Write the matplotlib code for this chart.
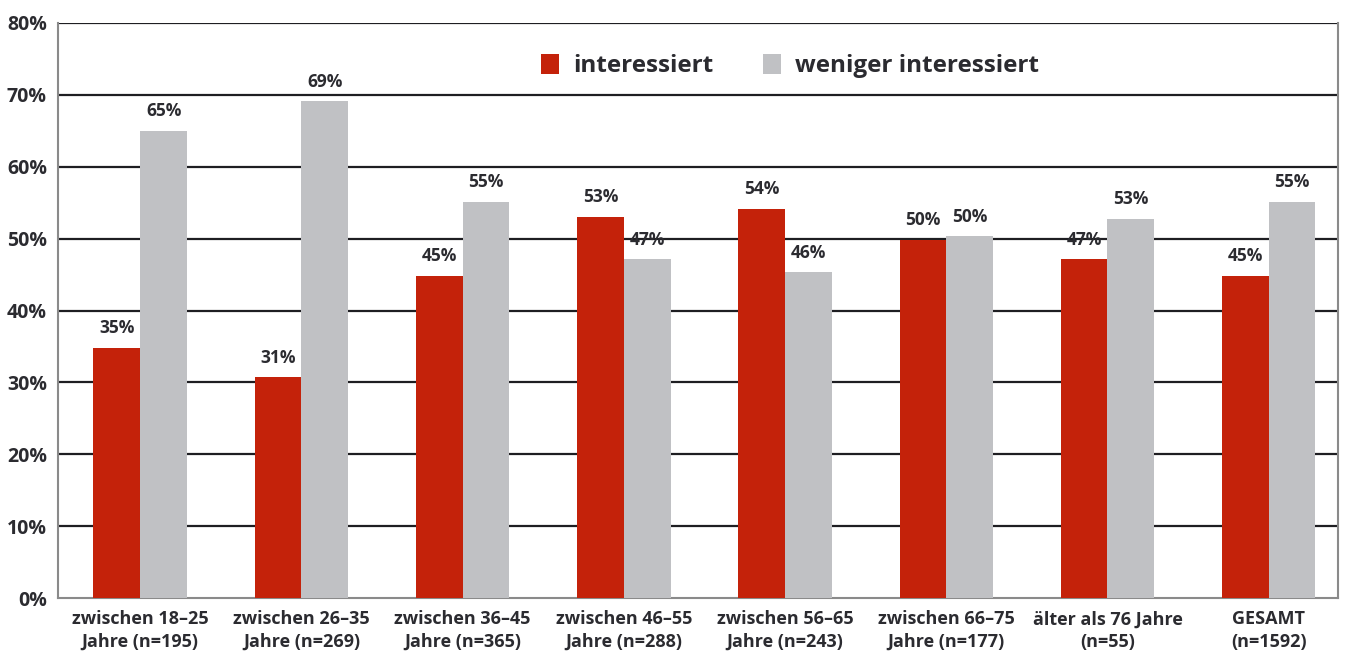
import numpy as np
import matplotlib.pyplot as plt

plt.rcParams['font.family'] = ['Open Sans', 'DejaVu Sans']

categories = ["zwischen 18–25\nJahre (n=195)", "zwischen 26–35\nJahre (n=269)",
              "zwischen 36–45\nJahre (n=365)", "zwischen 46–55\nJahre (n=288)",
              "zwischen 56–65\nJahre (n=243)", "zwischen 66–75\nJahre (n=177)",
              "älter als 76 Jahre\n(n=55)", "GESAMT\n(n=1592)"]
interessiert = [34.8, 30.7, 44.8, 53.0, 54.1, 49.8, 47.1, 44.8]
weniger = [65.0, 69.1, 55.1, 47.1, 45.3, 50.3, 52.7, 55.1]
labels_int = ["35%", "31%", "45%", "53%", "54%", "50%", "47%", "45%"]
labels_wen = ["65%", "69%", "55%", "47%", "46%", "50%", "53%", "55%"]

red = '#c4220a'
grey = '#c0c1c4'
txt = '#2b2b30'

fig = plt.figure(figsize=(13.55, 6.59), dpi=100)
ax = fig.add_axes([58 / 1355, 61 / 659, 1280 / 1355, 575 / 659])

x = np.arange(len(categories))
w = 0.29
b1 = ax.bar(x - w / 2, interessiert, w, color=red, zorder=3, label='interessiert')
b2 = ax.bar(x + w / 2, weniger, w, color=grey, zorder=3, label='weniger interessiert')

for xi, v, s in zip(x, interessiert, labels_int):
    ax.text(xi - w / 2, v + 1.5, s, ha='center', va='bottom', fontsize=12.5,
            fontweight='bold', color=txt)
for xi, v, s in zip(x, weniger, labels_wen):
    ax.text(xi + w / 2, v + 1.5, s, ha='center', va='bottom', fontsize=12.5,
            fontweight='bold', color=txt)

ax.set_xlim(-0.51, 7.43)
ax.set_ylim(0, 80)
ax.set_yticks(np.arange(0, 81, 10))
ax.set_yticklabels([f"{v}%" for v in range(0, 81, 10)], fontsize=14,
                   fontweight='bold', color=txt)
ax.set_xticks(x)
ax.set_xticklabels(categories, fontsize=13, fontweight='bold', color=txt,
                   linespacing=1.3)
ax.tick_params(axis='both', length=0)
ax.tick_params(axis='y', pad=8)
ax.tick_params(axis='x', pad=9)

for yv in range(10, 81, 10):
    ax.axhline(yv, color='#1e1e22', lw=1.6, zorder=1)
for sp in ['left', 'right', 'bottom']:
    ax.spines[sp].set_color('#8a8a8a')
    ax.spines[sp].set_linewidth(1.5)
ax.spines['top'].set_visible(False)

ax.legend(handles=[b1, b2], loc='upper center', bbox_to_anchor=(0.572, 0.985),
          ncol=2, frameon=False, prop={'weight': 'bold', 'size': 17.5},
          handlelength=0.75, handleheight=0.95, columnspacing=2.0, handletextpad=0.6)
for t in ax.get_legend().get_texts():
    t.set_color(txt)

fig.savefig('out.png', dpi=100, facecolor='white')
